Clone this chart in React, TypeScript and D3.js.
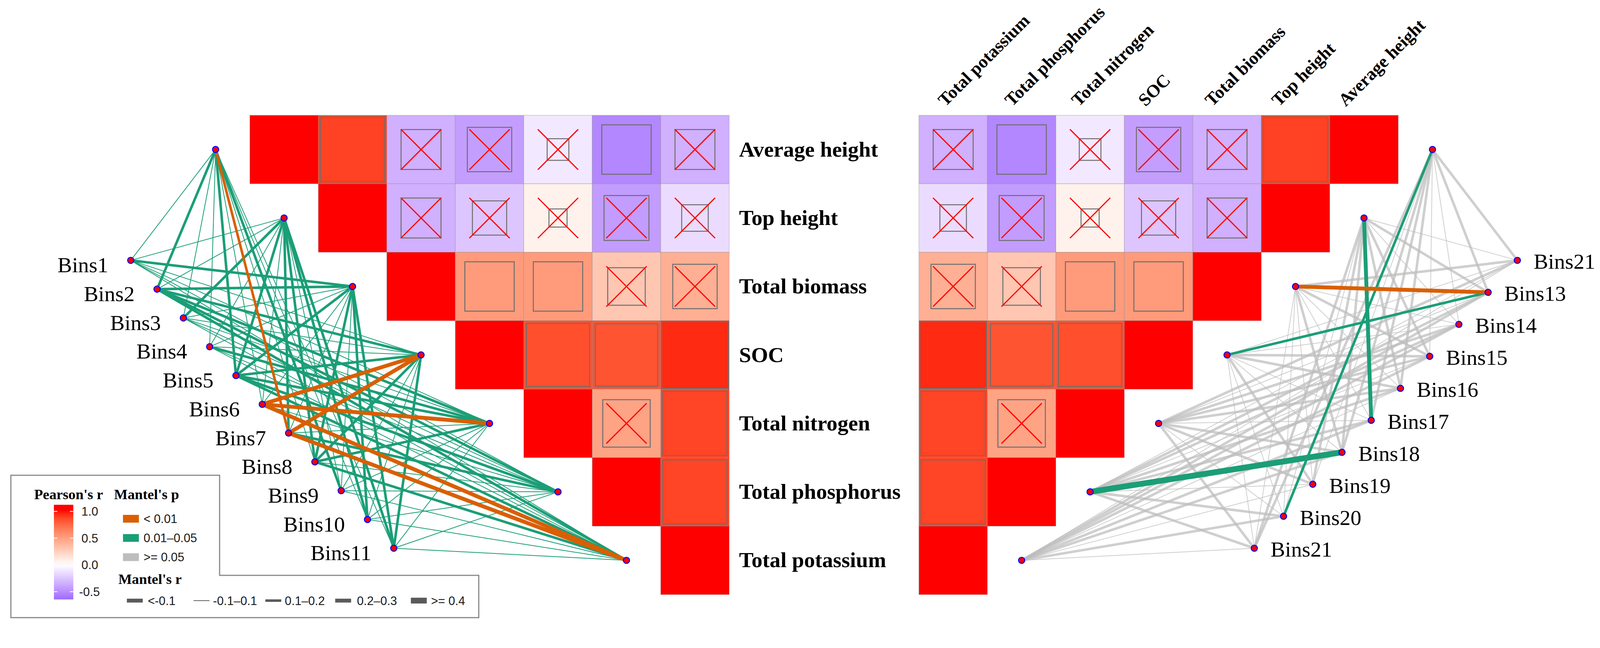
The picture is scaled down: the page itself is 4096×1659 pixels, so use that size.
import * as d3 from "d3";

// ---------- data ----------
const VARIABLES = [
  "Average height",
  "Top height",
  "Total biomass",
  "SOC",
  "Total nitrogen",
  "Total phosphorus",
  "Total potassium",
];

// Pearson's r between the variables (same order as VARIABLES)
const CORR_R = [
  [1, 0.89, -0.34, -0.42, -0.1, -0.52, -0.34],
  [0.89, 1, -0.34, -0.25, 0.07, -0.43, -0.15],
  [-0.34, -0.34, 1, 0.52, 0.52, 0.3, 0.42],
  [-0.42, -0.25, 0.52, 1, 0.85, 0.83, 0.95],
  [-0.1, 0.07, 0.52, 0.85, 1, 0.48, 0.88],
  [-0.52, -0.43, 0.3, 0.83, 0.48, 1, 0.88],
  [-0.34, -0.15, 0.42, 0.95, 0.88, 0.88, 1],
];
const CORR_P = [
  [0, 0.001, 0.21, 0.12, 0.72, 0.04, 0.21],
  [0.001, 0, 0.21, 0.36, 0.8, 0.1, 0.58],
  [0.21, 0.21, 0, 0.04, 0.04, 0.27, 0.11],
  [0.12, 0.36, 0.04, 0, 0.001, 0.001, 0.001],
  [0.72, 0.8, 0.04, 0.001, 0, 0.06, 0.001],
  [0.04, 0.1, 0.27, 0.001, 0.06, 0, 0.001],
  [0.21, 0.58, 0.11, 0.001, 0.001, 0.001, 0],
];

const LEFT_BINS = ["Bins1", "Bins2", "Bins3", "Bins4", "Bins5", "Bins6", "Bins7", "Bins8", "Bins9", "Bins10", "Bins11"];
const RIGHT_BINS = ["Bins21", "Bins13", "Bins14", "Bins15", "Bins16", "Bins17", "Bins18", "Bins19", "Bins20", "Bins21"];

// Mantel's r / p : rows = bins, cols = VARIABLES
const LEFT_MANTEL_R = [
  [0.06, 0.06, 0.16, 0.07, 0.06, 0.05, 0.06],
  [0.17, 0.07, 0.18, 0.15, 0.16, 0.13, 0.15],
  [0.06, 0.16, 0.06, 0.07, 0.06, 0.07, 0.05],
  [0.06, 0.05, 0.06, 0.07, 0.14, 0.07, 0.06],
  [0.18, 0.15, 0.16, 0.14, 0.15, 0.13, 0.14],
  [0.06, 0.06, 0.07, 0.22, 0.26, 0.07, 0.22],
  [0.15, 0.14, 0.06, 0.21, 0.07, 0.13, 0.24],
  [0.06, 0.13, 0.15, 0.14, 0.15, 0.07, 0.14],
  [0.14, 0.06, 0.06, 0.05, 0.06, 0.07, 0.06],
  [0.07, 0.15, 0.16, 0.06, 0.06, 0.05, 0.05],
  [0.07, 0.15, 0.14, 0.15, 0.06, 0.06, 0.06],
];
const LEFT_MANTEL_P = [
  [0.03, 0.04, 0.02, 0.03, 0.04, 0.04, 0.03],
  [0.02, 0.04, 0.02, 0.02, 0.02, 0.03, 0.02],
  [0.04, 0.02, 0.04, 0.03, 0.04, 0.03, 0.04],
  [0.04, 0.04, 0.04, 0.03, 0.02, 0.03, 0.04],
  [0.02, 0.02, 0.02, 0.02, 0.02, 0.03, 0.02],
  [0.03, 0.04, 0.03, 0.005, 0.003, 0.03, 0.006],
  [0.008, 0.02, 0.04, 0.006, 0.03, 0.02, 0.004],
  [0.04, 0.02, 0.02, 0.02, 0.02, 0.03, 0.02],
  [0.02, 0.04, 0.04, 0.04, 0.03, 0.04, 0.04],
  [0.03, 0.02, 0.02, 0.04, 0.04, 0.04, 0.04],
  [0.04, 0.02, 0.02, 0.02, 0.03, 0.04, 0.04],
];
const RIGHT_MANTEL_R = [
  [0.15, 0.05, 0.12, 0.05, 0.12, 0.06, 0.06],
  [0.13, 0.15, 0.26, 0.17, 0.06, 0.12, 0.12],
  [0.05, 0.06, 0.06, 0.06, 0.15, 0.13, 0.13],
  [0.06, 0.15, 0.15, 0.15, 0.12, 0.06, 0.12],
  [0.15, 0.12, 0.06, 0.12, 0.15, 0.15, 0.06],
  [0.12, 0.25, 0.05, 0.06, 0.06, 0.12, 0.12],
  [0.15, 0.13, 0.12, 0.05, 0.15, 0.45, 0.13],
  [0.06, 0.15, 0.05, 0.12, 0.12, 0.06, 0.06],
  [0.18, 0.06, 0.06, 0.05, 0.06, 0.16, 0.12],
  [0.13, 0.14, 0.05, 0.06, 0.12, 0.16, 0.05],
];
const RIGHT_MANTEL_P = [
  [0.3, 0.5, 0.2, 0.4, 0.3, 0.6, 0.5],
  [0.2, 0.1, 0.004, 0.03, 0.5, 0.3, 0.3],
  [0.6, 0.5, 0.4, 0.5, 0.2, 0.3, 0.3],
  [0.4, 0.1, 0.2, 0.2, 0.3, 0.5, 0.3],
  [0.2, 0.3, 0.5, 0.3, 0.2, 0.2, 0.5],
  [0.3, 0.02, 0.6, 0.5, 0.5, 0.3, 0.3],
  [0.2, 0.3, 0.3, 0.6, 0.2, 0.012, 0.3],
  [0.5, 0.2, 0.6, 0.3, 0.3, 0.5, 0.5],
  [0.03, 0.5, 0.5, 0.6, 0.5, 0.2, 0.3],
  [0.3, 0.2, 0.6, 0.5, 0.3, 0.2, 0.6],
];

const COLORBAR_TICKS = [1, 0.5, 0, -0.5];
const P_LEVELS = [0.005, 0.03, 0.5];
const P_LABELS = ["< 0.01", "0.01\u20130.05", ">= 0.05"];
const R_LEVELS = [-0.2, 0, 0.15, 0.25, 0.45];
const R_LABELS = ["<-0.1", "-0.1\u20130.1", "0.1\u20130.2", "0.2\u20130.3", ">= 0.4"];

// ---------- layout (reference pixels, scaled by viewBox) ----------
const W = 4124;
const H = 1670;
const CELL = 176.5;
const TOP = 297;
const LEFT_X0 = 644;
const MIRROR = 4248; // the figure is symmetric about x = 2124
const RIGHT_X0 = MIRROR - (LEFT_X0 + 7 * CELL);
const BIN_START: [number, number] = [337, 671];
const BIN_END: [number, number] = [1015, 1413];
const SERIF = "'Liberation Serif', 'Times New Roman', serif";
const SANS = "'Liberation Sans', Arial, sans-serif";

const fill = d3
  .scaleLinear<string>()
  .domain([-1, 0, 1])
  .range(["#4000ff", "#ffffff", "#ff0000"])
  .interpolate(d3.interpolateLab)
  .clamp(true);

const lineWidth = d3.scaleThreshold<number, number>().domain([-0.1, 0.1, 0.2, 0.3]).range([10, 2, 6.5, 10, 15]);
const lineColor = d3.scaleThreshold<number, string>().domain([0.01, 0.05]).range(["#D95F02", "#1B9E77", "#BDBDBD"]);

type Edge = { x1: number; y1: number; x2: number; y2: number; r: number; p: number };

function envPos(i: number, right: boolean): [number, number] {
  const x = LEFT_X0 + (i - 0.5) * CELL;
  const y = TOP + (i + 0.5) * CELL;
  return [right ? MIRROR - x : x, y];
}

function binPos(bins: string[], right: boolean) {
  const t = d3.scaleLinear().domain([0, bins.length - 1]).range([0, 1]);
  return bins.map((_, i) => {
    const x = BIN_START[0] + (BIN_END[0] - BIN_START[0]) * t(i);
    const y = BIN_START[1] + (BIN_END[1] - BIN_START[1]) * t(i);
    return [right ? MIRROR - x : x, y] as [number, number];
  });
}

function buildEdges(bins: string[], R: number[][], P: number[][], right: boolean): Edge[] {
  const pos = binPos(bins, right);
  const out: Edge[] = [];
  bins.forEach((_, b) => {
    VARIABLES.forEach((_, v) => {
      const [x2, y2] = envPos(v, right);
      out.push({ x1: pos[b][0], y1: pos[b][1], x2, y2, r: R[b][v], p: P[b][v] });
    });
  });
  // non-significant links underneath, significant ones on top
  const rank = (e: Edge) => lineColor.range().indexOf(lineColor(e.p));
  return d3.sort(out, (a, b) => d3.descending(rank(a), rank(b)));
}

function Tile({ x, y, i, j }: { x: number; y: number; i: number; j: number }) {
  const r = CORR_R[i][j];
  const p = CORR_P[i][j];
  const cx = x + CELL / 2;
  const cy = y + CELL / 2;
  const side = CELL * Math.sqrt(Math.abs(r));
  const h = 52;
  return (
    <g>
      <rect x={x} y={y} width={CELL} height={CELL} fill={fill(r)} stroke="#8c8c8c" strokeOpacity={0.45} strokeWidth={1.5} />
      {i !== j && (
        <rect
          x={cx - side / 2}
          y={cy - side / 2}
          width={side}
          height={side}
          fill={fill(r)}
          stroke="#6e6e6e"
          strokeWidth={2.5}
        />
      )}
      {p >= 0.05 && (
        <g stroke="#ff0000" strokeWidth={3}>
          <line x1={cx - h} y1={cy - h} x2={cx + h} y2={cy + h} />
          <line x1={cx + h} y1={cy - h} x2={cx - h} y2={cy + h} />
        </g>
      )}
    </g>
  );
}

function Network({ bins, R, P, right }: { bins: string[]; R: number[][]; P: number[][]; right: boolean }) {
  const edges = buildEdges(bins, R, P, right);
  const pos = binPos(bins, right);
  return (
    <g>
      {edges.map((e, k) => (
        <line
          key={k}
          x1={e.x1}
          y1={e.y1}
          x2={e.x2}
          y2={e.y2}
          stroke={lineColor(e.p)}
          strokeOpacity={e.p >= 0.05 ? 0.72 : 1}
          strokeWidth={lineWidth(e.r)}
        />
      ))}
      {pos.map(([x, y], k) => (
        <circle key={"b" + k} cx={x} cy={y} r={8} fill="#ff0000" stroke="#0000ff" strokeWidth={2.5} />
      ))}
      {VARIABLES.map((_, k) => {
        const [x, y] = envPos(k, right);
        return <circle key={"e" + k} cx={x} cy={y} r={8} fill="#ff0000" stroke="#0000ff" strokeWidth={2.5} />;
      })}
      {pos.map(([x, y], k) => (
        <text
          key={"t" + k}
          x={right ? x + 42 : x - 58}
          y={right ? y + 22 : y + 31}
          textAnchor={right ? "start" : "end"}
          fontFamily={SERIF}
          fontSize={56}
          fill="#000"
        >
          {bins[k]}
        </text>
      ))}
    </g>
  );
}

function Legend() {
  const barX = 139;
  const barW = 50;
  const barTop = 1301;
  const barBottom = 1545;
  const yBar = d3.scaleLinear().domain([-0.5, 1]).range([1525, 1318]);
  const vTop = yBar.invert(barTop);
  const vBottom = yBar.invert(barBottom);
  const stops = d3.range(0, 1.0001, 0.05).map((t) => ({ t, c: fill(vBottom + (vTop - vBottom) * t) }));
  const pY = d3.scalePoint<number>().domain(d3.range(P_LABELS.length)).range([1337, 1436]);
  const rKeyX = [327, 499, 684, 864, 1059];
  const rLabelX = [381, 549, 734, 920, 1111];
  return (
    <g>
      <defs>
        <linearGradient id="pearsonbar" x1="0" y1="1" x2="0" y2="0">
          {stops.map((s) => (
            <stop key={s.t} offset={s.t} stopColor={s.c} />
          ))}
        </linearGradient>
      </defs>
      <path d="M28,1225 H566 V1483 H1234 V1592 H28 Z" fill="#fff" stroke="#8a8a8a" strokeWidth={3} />
      <text x={88} y={1287} fontFamily={SERIF} fontWeight="bold" fontSize={37}>
        Pearson's r
      </text>
      <text x={294} y={1287} fontFamily={SERIF} fontWeight="bold" fontSize={37}>
        Mantel's p
      </text>
      <rect x={barX} y={barTop} width={barW} height={barBottom - barTop} fill="url(#pearsonbar)" />
      {COLORBAR_TICKS.map((v) => (
        <g key={v}>
          <line x1={barX} x2={barX + 9} y1={yBar(v)} y2={yBar(v)} stroke="#fff" strokeWidth={2} />
          <line x1={barX + barW - 9} x2={barX + barW} y1={yBar(v)} y2={yBar(v)} stroke="#fff" strokeWidth={2} />
          <text x={v < 0 ? 204 : 210} y={yBar(v) + 11} fontFamily={SANS} fontSize={31} fill="#1a1a1a">
            {v < 0 ? "-" + d3.format(".1f")(-v) : d3.format(".1f")(v)}
          </text>
        </g>
      ))}
      {P_LABELS.map((lab, k) => (
        <g key={lab}>
          <rect x={317} y={pY(k)! - 10} width={41} height={20} fill={lineColor(P_LEVELS[k])} />
          <text x={370} y={pY(k)! + 11} fontFamily={SANS} fontSize={31} fill="#1a1a1a">
            {lab}
          </text>
        </g>
      ))}
      <text x={305} y={1505} fontFamily={SERIF} fontWeight="bold" fontSize={37}>
        Mantel's r
      </text>
      {R_LABELS.map((lab, k) => {
        const w = lineWidth(R_LEVELS[k]);
        return (
          <g key={lab}>
            <rect x={rKeyX[k]} y={1548 - w / 2} width={41} height={w} fill="#5a5a5a" />
            <text x={rLabelX[k]} y={1559} fontFamily={SANS} fontSize={31} fill="#1a1a1a">
              {lab}
            </text>
          </g>
        );
      })}
    </g>
  );
}

export default function App() {
  const leftCells: { x: number; y: number; i: number; j: number }[] = [];
  const rightCells: { x: number; y: number; i: number; j: number }[] = [];
  VARIABLES.forEach((_, i) => {
    for (let j = i; j < VARIABLES.length; j++) {
      leftCells.push({ x: LEFT_X0 + j * CELL, y: TOP + i * CELL, i, j });
    }
    for (let k = 0; k <= VARIABLES.length - 1 - i; k++) {
      rightCells.push({ x: RIGHT_X0 + k * CELL, y: TOP + i * CELL, i, j: VARIABLES.length - 1 - k });
    }
  });

  // column headers sit slightly tighter than the columns themselves
  const headerX = d3.scaleLinear().domain([0, 6]).range([RIGHT_X0 + 68, RIGHT_X0 + 68 + 6 * 172]);

  return (
    <div style={{ position: "fixed", left: 0, top: 0, width: "100vw", height: "100vh", background: "#fff", overflow: "hidden" }}>
      <svg width={4096} height={1659} viewBox={`0 0 ${W} ${H}`} style={{ display: "block" }}>
        <rect width={W} height={H} fill="#fff" />
        <Network bins={LEFT_BINS} R={LEFT_MANTEL_R} P={LEFT_MANTEL_P} right={false} />
        <Network bins={RIGHT_BINS} R={RIGHT_MANTEL_R} P={RIGHT_MANTEL_P} right={true} />
        {leftCells.map((c) => (
          <Tile key={`l${c.i}-${c.j}`} {...c} />
        ))}
        {rightCells.map((c) => (
          <Tile key={`r${c.i}-${c.j}`} {...c} />
        ))}
        {VARIABLES.map((v, i) => (
          <text
            key={v}
            x={1905}
            y={TOP + (i + 0.5) * CELL + 18}
            fontFamily={SERIF}
            fontWeight="bold"
            fontSize={56}
            fill="#000"
          >
            {v}
          </text>
        ))}
        {VARIABLES.map((_, k) => {
          const label = VARIABLES[VARIABLES.length - 1 - k];
          const x = headerX(k);
          const y = 276;
          return (
            <text
              key={"c" + label}
              x={x}
              y={y}
              transform={`rotate(-45 ${x} ${y})`}
              fontFamily={SERIF}
              fontWeight="bold"
              fontSize={46}
              fill="#000"
            >
              {label}
            </text>
          );
        })}
        <Legend />
      </svg>
    </div>
  );
}
